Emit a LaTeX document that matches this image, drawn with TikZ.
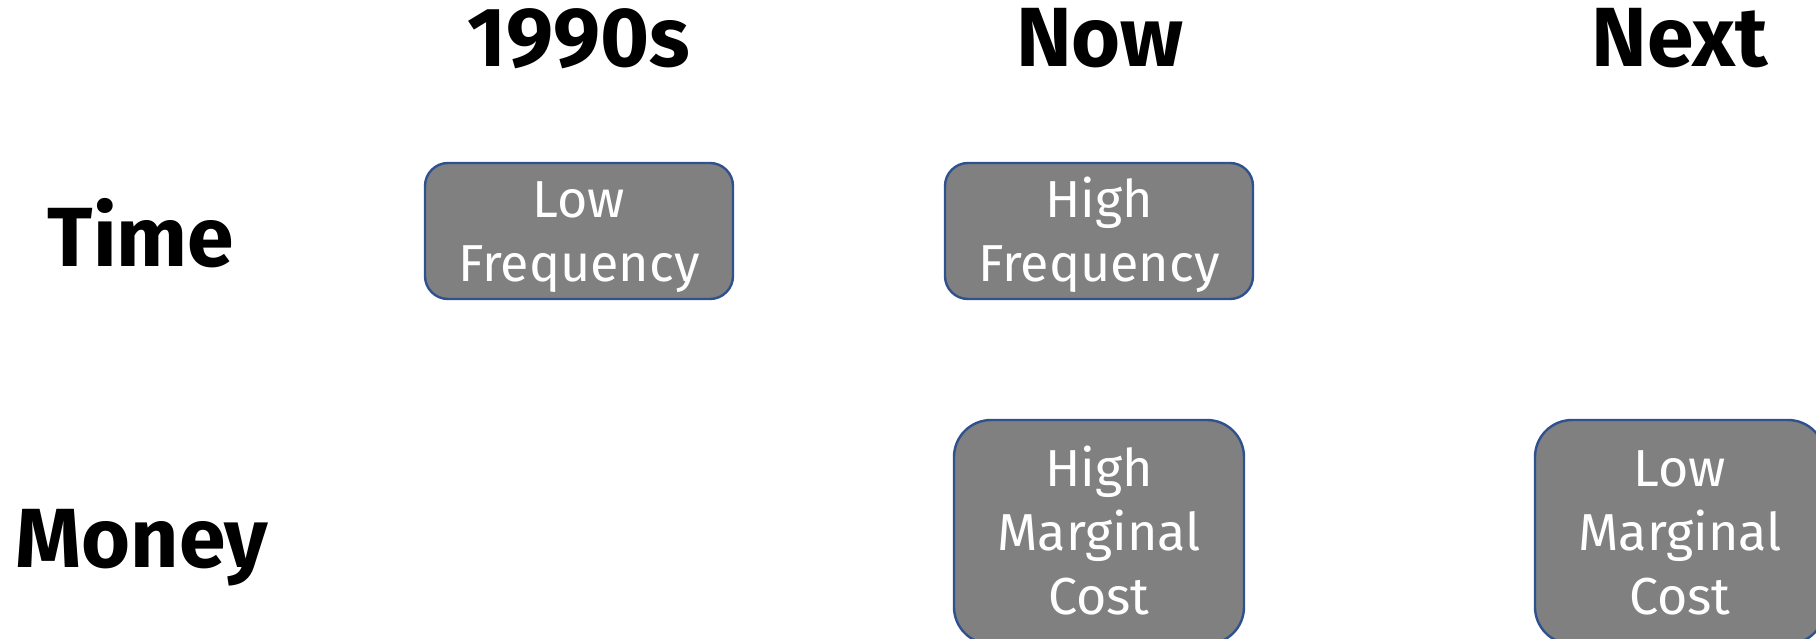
\documentclass[tikz,border=0pt]{standalone}
\usepackage{fontspec}
\setmainfont{Fira Sans}
\begin{document}
\begin{tikzpicture}[x=1pt,y=-1pt,
  cell/.style={draw=cellblue, line width=2.4pt, fill=cellgray, rounded corners=#1, inner sep=0pt},
  cell/.default=23pt,
  heading/.style={anchor=base, inner sep=0pt, font=\fontsize{84}{84}\selectfont\bfseries},
  celltext/.style={anchor=base, inner sep=0pt, text=white, font=\fontsize{52}{64}\selectfont}]
\definecolor{cellgray}{HTML}{808080}
\definecolor{cellblue}{HTML}{2F528F}
\useasboundingbox (0,0) rectangle (1816,639);
\clip (0,0) rectangle (1816,639);
% column headings
\node[heading] (h90)   at (579,67) {1990s};
\node[heading] (hnow)  at (1100,67) {Now};
\node[heading] (hnext) at (1680,67) {Next};
% row headings
\node[heading] (rtime)  at (141,266) {Time};
\node[heading] (rmoney) at (142,567) {Money};
% cells
\draw[cell] (425,163) rectangle (733,299);
\node[celltext] (lf1) at (579,218) {Low};
\node[celltext] (lf2) at (579,281) {Frequency};
\draw[cell] (945,163) rectangle (1253,299);
\node[celltext] (hf1) at (1099,218) {High};
\node[celltext] (hf2) at (1099,281) {Frequency};
\draw[cell=37pt] (954,420) rectangle (1244,644);
\node[celltext] (hm1) at (1099,486) {High};
\node[celltext] (hm2) at (1099,550) {Marginal};
\node[celltext] (hm3) at (1099,614) {Cost};
\draw[cell=37pt] (1535,420) rectangle (1825,644);
\node[celltext] (lm1) at (1680,486) {Low};
\node[celltext] (lm2) at (1680,550) {Marginal};
\node[celltext] (lm3) at (1680,614) {Cost};
\end{tikzpicture}
\end{document}
